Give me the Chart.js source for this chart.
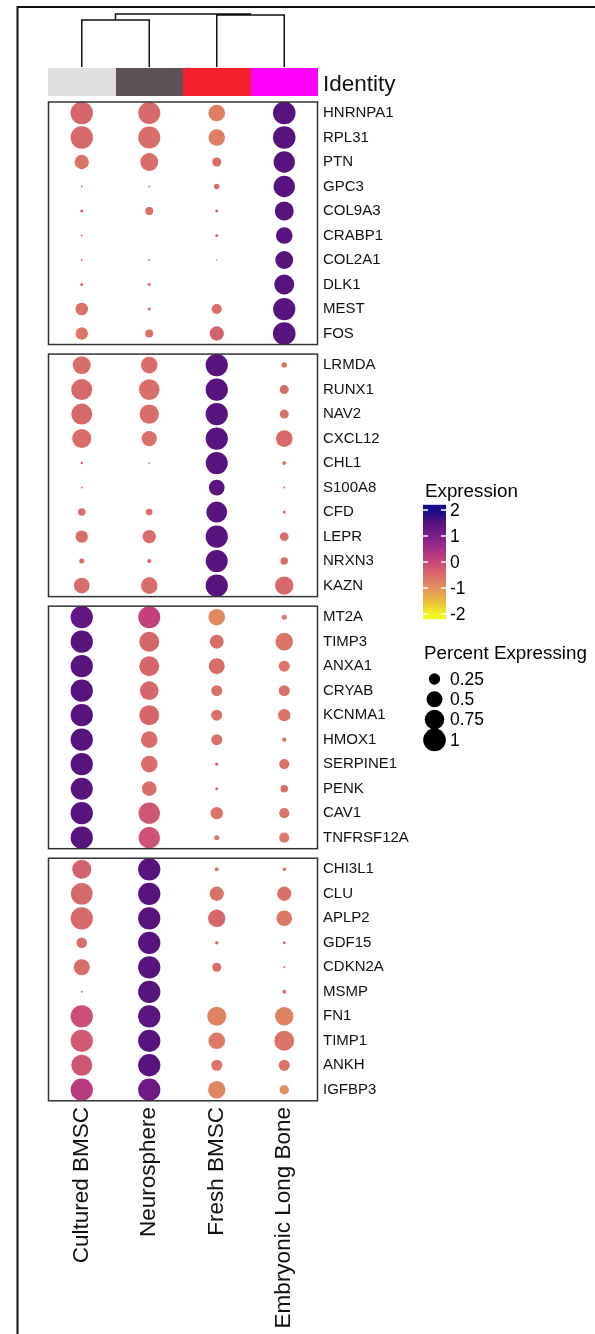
<!DOCTYPE html>
<html>
<head>
<meta charset="utf-8">
<script src="https://cdn.jsdelivr.net/npm/chart.js@4.4.1/dist/chart.umd.min.js"></script>
<style>
  html, body { margin: 0; padding: 0; background: #fff; overflow: hidden; }
  #wrap { position: relative; width: 595px; height: 1334px; }
</style>
</head>
<body>
<div id="wrap"><canvas id="dot"></canvas></div>
<script>
// ---- data ----
const identities = ['Cultured BMSC', 'Neurosphere', 'Fresh BMSC', 'Embryonic Long Bone'];
const identityColors = ['#E0DEDF', '#5D5357', '#F5222D', '#FF00FF'];

const genesBlock1 = ['HNRNPA1', 'RPL31', 'PTN', 'GPC3', 'COL9A3', 'CRABP1', 'COL2A1', 'DLK1', 'MEST', 'FOS'];
const genesBlock2 = ['LRMDA', 'RUNX1', 'NAV2', 'CXCL12', 'CHL1', 'S100A8', 'CFD', 'LEPR', 'NRXN3', 'KAZN'];
const genesBlock3 = ['MT2A', 'TIMP3', 'ANXA1', 'CRYAB', 'KCNMA1', 'HMOX1', 'SERPINE1', 'PENK', 'CAV1', 'TNFRSF12A'];
const genesBlock4 = ['CHI3L1', 'CLU', 'APLP2', 'GDF15', 'CDKN2A', 'MSMP', 'FN1', 'TIMP1', 'ANKH', 'IGFBP3'];

// fraction of cells expressing each gene, one array per identity (gene order as above)
const pctCultured = [0.98, 0.98, 0.40, 0.008, 0.02, 0.008, 0.008, 0.018, 0.31, 0.30,
  0.63, 0.86, 0.86, 0.71, 0.012, 0.008, 0.11, 0.30, 0.05, 0.48,
  0.97, 0.97, 0.97, 0.97, 0.97, 0.97, 0.97, 0.95, 0.97, 0.97,
  0.71, 0.92, 0.97, 0.22, 0.50, 0.008, 0.97, 0.97, 0.86, 0.97];
const pctNeurosphere = [0.95, 0.95, 0.63, 0.008, 0.125, 0, 0.008, 0.02, 0.018, 0.125,
  0.54, 0.83, 0.73, 0.46, 0.006, 0, 0.085, 0.35, 0.035, 0.54,
  0.95, 0.78, 0.78, 0.68, 0.78, 0.54, 0.54, 0.42, 0.89, 0.89,
  0.97, 0.97, 0.97, 0.97, 0.97, 0.97, 0.97, 0.97, 0.97, 0.97];
const pctFresh = [0.54, 0.54, 0.16, 0.06, 0.02, 0.018, 0.004, 0, 0.20, 0.40,
  0.97, 0.97, 0.97, 0.97, 0.95, 0.48, 0.86, 0.97, 0.95, 0.97,
  0.54, 0.38, 0.50, 0.24, 0.24, 0.24, 0.02, 0.018, 0.30, 0.05,
  0.03, 0.40, 0.59, 0.024, 0.16, 0, 0.71, 0.54, 0.24, 0.59];
const pctEmbryonic = [1.0, 1.0, 0.89, 0.89, 0.71, 0.54, 0.63, 0.78, 0.97, 1.0,
  0.06, 0.16, 0.16, 0.54, 0.03, 0.008, 0.018, 0.15, 0.11, 0.66,
  0.05, 0.61, 0.24, 0.24, 0.30, 0.036, 0.20, 0.11, 0.20, 0.20,
  0.024, 0.40, 0.48, 0.018, 0.008, 0.03, 0.66, 0.78, 0.24, 0.17];

// scaled average expression, one array per identity
const expCultured = [-0.4, -0.45, -0.6, -0.5, -0.5, -0.5, -0.5, -0.5, -0.55, -0.6,
  -0.5, -0.45, -0.45, -0.5, -0.5, -0.5, -0.5, -0.5, -0.5, -0.5,
  1.35, 1.5, 1.5, 1.5, 1.5, 1.5, 1.5, 1.5, 1.5, 1.5,
  -0.35, -0.45, -0.45, -0.5, -0.5, -0.5, -0.1, -0.25, -0.2, 0.25];
const expNeurosphere = [-0.45, -0.5, -0.5, -0.5, -0.5, -0.5, -0.5, -0.5, -0.5, -0.5,
  -0.5, -0.5, -0.5, -0.55, -0.5, -0.5, -0.5, -0.5, -0.5, -0.5,
  0.1, -0.4, -0.4, -0.4, -0.4, -0.5, -0.5, -0.5, -0.2, -0.15,
  1.5, 1.5, 1.5, 1.5, 1.5, 1.5, 1.45, 1.5, 1.5, 1.2];
const expFresh = [-0.75, -0.75, -0.5, -0.5, -0.5, -0.5, -0.5, -0.5, -0.5, -0.35,
  1.5, 1.5, 1.5, 1.5, 1.5, 1.5, 1.5, 1.5, 1.5, 1.5,
  -0.9, -0.5, -0.5, -0.55, -0.55, -0.55, -0.5, -0.5, -0.6, -0.6,
  -0.5, -0.55, -0.4, -0.5, -0.5, -0.5, -0.8, -0.65, -0.6, -0.85];
const expEmbryonic = [1.5, 1.5, 1.5, 1.5, 1.5, 1.5, 1.5, 1.5, 1.5, 1.5,
  -0.6, -0.5, -0.55, -0.45, -0.5, -0.5, -0.5, -0.5, -0.5, -0.45,
  -0.65, -0.6, -0.6, -0.55, -0.6, -0.5, -0.55, -0.5, -0.6, -0.65,
  -0.5, -0.55, -0.65, -0.5, -0.5, -0.5, -0.8, -0.6, -0.6, -1.0];

const colorTicks = [2, 1, 0, -1, -2];
const sizeTicks = [0.25, 0.5, 0.75, 1];

// dendrogram merge heights (Cultured+Neurosphere, Fresh+Embryonic, root)
const mergeLeft = 47, mergeRight = 52, mergeRoot = 53;

// ---- styling helpers ----
const FONT = "'Liberation Sans', Arial, Helvetica, sans-serif";
const colorStops = [
  [2.0, '#150A8A'], [1.5, '#58137F'], [1.0, '#7E1D8D'], [0.5, '#A62E86'],
  [0.0, '#C9467A'], [-0.5, '#D96D69'], [-1.0, '#E3915F'], [-1.5, '#ECBA42'], [-2.0, '#F3F520']
];
function hexToRgb(h) { return [1, 3, 5].map(i => parseInt(h.slice(i, i + 2), 16)); }
function colorOf(v) {
  v = Math.max(-2, Math.min(2, v));
  for (let i = 0; i < colorStops.length - 1; i++) {
    const [v0, c0] = colorStops[i], [v1, c1] = colorStops[i + 1];
    if (v <= v0 && v >= v1) {
      const t = (v0 - v) / (v0 - v1);
      const a = hexToRgb(c0), b = hexToRgb(c1);
      const m = a.map((x, k) => Math.round(x + (b[k] - x) * t));
      return `rgb(${m[0]},${m[1]},${m[2]})`;
    }
  }
  return colorStops[colorStops.length - 1][1];
}
const R_MAX = 11.3;
function radiusOf(p) { return R_MAX * Math.sqrt(Math.max(0, p)); }

// gene rows: blocks separated by a small gap on the y axis
const blocks = [genesBlock1, genesBlock2, genesBlock3, genesBlock4];
const BLOCK_STEP = 10.29;
const genes = blocks.flat();
const genePos = [];
blocks.forEach((b, bi) => b.forEach((g, r) => genePos.push(bi * BLOCK_STEP + r)));

const pctByIdentity = [pctCultured, pctNeurosphere, pctFresh, pctEmbryonic];
const expByIdentity = [expCultured, expNeurosphere, expFresh, expEmbryonic];

const datasets = identities.map((id, i) => ({
  label: id,
  data: genes.map((g, k) => ({ x: id, y: genePos[k], r: radiusOf(pctByIdentity[i][k]) })),
  backgroundColor: expByIdentity[i].map(colorOf),
  borderWidth: 0
}));

// ---- decorations: frame, dendrogram, identity strip, panel boxes, legends ----
const decorations = {
  id: 'decorations',
  afterDraw(chart) {
    const { ctx, scales: { x, y } } = chart;
    ctx.save();

    // outer frame
    ctx.strokeStyle = '#111';
    ctx.lineWidth = 2;
    ctx.beginPath();
    ctx.moveTo(17.5, 1334); ctx.lineTo(17.5, 7); ctx.lineTo(595, 7);
    ctx.stroke();

    // identity strip
    const cx = identities.map((_, i) => x.getPixelForValue(i));
    const band = cx[1] - cx[0];
    const stripTop = 68, stripH = 28;
    identities.forEach((_, i) => {
      ctx.fillStyle = identityColors[i];
      const l = Math.round(cx[i] - band / 2), r = Math.round(cx[i] + band / 2);
      ctx.fillRect(l, stripTop, r - l, stripH);
    });
    ctx.fillStyle = '#111';
    ctx.font = `22.5px ${FONT}`;
    ctx.textBaseline = 'alphabetic';
    ctx.textAlign = 'left';
    ctx.fillText('Identity', 323, 90.5);

    // dendrogram
    const base = 67;
    const hy = h => base - h;
    ctx.strokeStyle = '#111';
    ctx.lineWidth = 1.5;
    const midL = (cx[0] + cx[1]) / 2, midR = (cx[2] + cx[3]) / 2;
    ctx.beginPath();
    ctx.moveTo(cx[0], base); ctx.lineTo(cx[0], hy(mergeLeft)); ctx.lineTo(cx[1], hy(mergeLeft)); ctx.lineTo(cx[1], base);
    ctx.moveTo(cx[2], base); ctx.lineTo(cx[2], hy(mergeRight)); ctx.lineTo(cx[3], hy(mergeRight)); ctx.lineTo(cx[3], base);
    ctx.moveTo(midL, hy(mergeLeft)); ctx.lineTo(midL, hy(mergeRoot)); ctx.lineTo(midR, hy(mergeRoot)); ctx.lineTo(midR, hy(mergeRight));
    ctx.stroke();

    // panel boxes
    ctx.strokeStyle = '#333';
    ctx.lineWidth = 1.5;
    blocks.forEach((b, bi) => {
      const t = y.getPixelForValue(bi * BLOCK_STEP - 0.45);
      const btm = y.getPixelForValue(bi * BLOCK_STEP + b.length - 1 + 0.45);
      ctx.strokeRect(chart.chartArea.left + 0.5, t, chart.chartArea.right - chart.chartArea.left - 1, btm - t);
    });

    // colour legend
    ctx.fillStyle = '#000';
    ctx.font = `18.8px ${FONT}`;
    ctx.fillText('Expression', 425, 497);
    const barL = 423, barW = 23;
    const vy = v => 562 - v * 26;
    const barTop = vy(2.2), barBot = vy(-2.2);
    const grad = ctx.createLinearGradient(0, vy(2), 0, vy(-2));
    colorStops.forEach(([v, c]) => grad.addColorStop((2 - v) / 4, c));
    ctx.fillStyle = grad;
    ctx.fillRect(barL, barTop, barW, barBot - barTop);
    ctx.strokeStyle = '#fff';
    ctx.lineWidth = 1.5;
    ctx.font = `17.5px ${FONT}`;
    ctx.textBaseline = 'middle';
    colorTicks.forEach(v => {
      const py = vy(v);
      ctx.beginPath();
      ctx.moveTo(barL, py); ctx.lineTo(barL + 5, py);
      ctx.moveTo(barL + barW - 5, py); ctx.lineTo(barL + barW, py);
      ctx.stroke();
      ctx.fillStyle = '#000';
      ctx.fillText(String(v), 450, py + 1);
    });

    // size legend
    ctx.textBaseline = 'alphabetic';
    ctx.font = `18.8px ${FONT}`;
    ctx.fillText('Percent Expressing', 424, 659);
    ctx.font = `17.5px ${FONT}`;
    ctx.textBaseline = 'middle';
    sizeTicks.forEach((p, i) => {
      const py = 679 + i * 20.3;
      ctx.fillStyle = '#000';
      ctx.beginPath();
      ctx.arc(434.5, py, radiusOf(p), 0, Math.PI * 2);
      ctx.fill();
      ctx.fillText(String(p), 450, py + 1);
    });

    ctx.restore();
  }
};

new Chart(document.getElementById('dot'), {
  type: 'bubble',
  data: { labels: identities, datasets },
  options: {
    responsive: true,
    maintainAspectRatio: false,
    animation: false,
    events: [],
    layout: { padding: { left: 48, top: 102, right: 0, bottom: 0 } },
    plugins: { legend: { display: false }, tooltip: { enabled: false } },
    scales: {
      x: {
        type: 'category',
        labels: identities,
        offset: true,
        grid: { display: false, drawTicks: false },
        border: { display: false },
        ticks: {
          autoSkip: false,
          minRotation: 90,
          maxRotation: 90,
          padding: 5,
          color: '#111',
          font: { family: FONT, size: 22.5 }
        },
        afterFit: s => { s.height = 232; }
      },
      y: {
        type: 'linear',
        position: 'right',
        reverse: true,
        min: -0.45,
        max: 3 * BLOCK_STEP + 9.5,
        grid: { display: false, drawTicks: false },
        border: { display: false },
        afterBuildTicks: s => { s.ticks = genePos.map(v => ({ value: v })); },
        ticks: {
          autoSkip: false,
          padding: 5,
          color: '#111',
          font: { family: FONT, size: 15 },
          callback: (v, i) => genes[i]
        },
        afterFit: s => { s.width = 277; }
      }
    }
  },
  plugins: [decorations]
});
</script>
</body>
</html>
